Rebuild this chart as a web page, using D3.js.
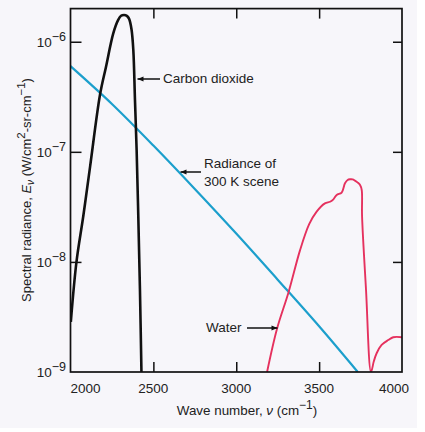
<!DOCTYPE html>
<html><head><meta charset="utf-8">
<script src="https://cdn.jsdelivr.net/npm/d3@7"></script>
<style>
html,body{margin:0;padding:0;background:#ffffff;}
svg{display:block;font-family:"Liberation Sans",Arial,Helvetica,sans-serif;}
</style></head>
<body>
<svg id="chart" width="425" height="432"></svg>
<script>
// ---- data ----
const xTicks = [2000, 2500, 3000, 3500, 4000];
const yTickExps = [-9, -8, -7, -6];
// Carbon dioxide band [wave number, radiance]
const co2Wave = [2002, 2036, 2077, 2118, 2178, 2214, 2258, 2287, 2305, 2323, 2340, 2353, 2368, 2379, 2389, 2399, 2409, 2419, 2428];
const co2Rad  = [2.85e-9, 1.0e-8, 2.6e-8, 7.3e-8, 3.3e-7, 5.9e-7, 1.19e-6, 1.57e-6, 1.72e-6, 1.75e-6, 1.72e-6, 1.62e-6, 1.3e-6, 8.4e-7, 2.95e-7, 1.04e-7, 2.6e-8, 5.6e-9, 1.0e-9];
// Radiance of 300 K scene
const bbWave = [2000, 2250, 2500, 2750, 3000, 3250, 3500, 3733];
const bbRad  = [6.0e-7, 2.72e-7, 1.14e-7, 4.6e-8, 1.81e-8, 6.9e-9, 2.6e-9, 1.0e-9];
// Water band
const h2oWave = [3186, 3246, 3316, 3385, 3440, 3485, 3535, 3566, 3586, 3606, 3636, 3656, 3672, 3686, 3702, 3716, 3733, 3747, 3757, 3759, 3783, 3813, 3830, 3847, 3877, 3917, 3947, 4000];
const h2oRad  = [1.0e-9, 2.47e-9, 5.33e-9, 1.28e-8, 2.2e-8, 2.86e-8, 3.4e-8, 3.52e-8, 3.7e-8, 4.06e-8, 4.26e-8, 5.18e-8, 5.55e-8, 5.63e-8, 5.62e-8, 5.47e-8, 5.25e-8, 4.99e-8, 4.5e-8, 2.61e-8, 5.56e-9, 1.0e-9, 1.25e-9, 1.48e-9, 1.76e-9, 1.95e-9, 2.07e-9, 2.07e-9];

(function(){
// ---- layout ----
const svg = d3.select("#chart");
svg.append("rect").attr("x",0).attr("y",0).attr("width",417).attr("height",428).attr("fill","#f7f6fa");

const pL = 70.5, pR = 402, pT = 8.6, pB = 372;
const x = d3.scaleLinear().domain([2000, 4000]).range([pL, pR]);
const y = d3.scaleLog().domain([1e-9, 2e-6]).range([pB, pT]);

const defs = svg.append("defs");
defs.append("clipPath").attr("id","clip").append("rect")
  .attr("x",pL).attr("y",pT).attr("width",pR-pL).attr("height",pB-pT);
defs.append("marker").attr("id","arr").attr("viewBox","0 0 10 10").attr("refX",10).attr("refY",5)
  .attr("markerWidth",7).attr("markerHeight",6).attr("markerUnits","userSpaceOnUse").attr("orient","auto")
  .append("path").attr("d","M0,1 L10,5 L0,9 Z").attr("fill","#111");

const line = d3.line().x(d => x(d[0])).y(d => y(d[1])).curve(d3.curveCatmullRom.alpha(0.5));
const lineLin = d3.line().x(d => x(d[0])).y(d => y(d[1])).curve(d3.curveMonotoneX);

const g = svg.append("g").attr("clip-path","url(#clip)");
g.append("path").datum(d3.zip(bbWave, bbRad)).attr("d", lineLin)
  .attr("fill","none").attr("stroke","#1c9fcc").attr("stroke-width",2.2);
g.append("path").datum(d3.zip(h2oWave, h2oRad)).attr("d", line)
  .attr("fill","none").attr("stroke","#e5315e").attr("stroke-width",1.9).attr("stroke-linejoin","round");
g.append("path").datum(d3.zip(co2Wave, co2Rad)).attr("d", line)
  .attr("fill","none").attr("stroke","#111").attr("stroke-width",2.6).attr("stroke-linejoin","round");

// ---- axes: frame with inward ticks ----
const inner = xTicks.filter(v => v > 2000 && v < 4000);
const axB = d3.axisBottom(x).tickValues(inner).tickSize(-10).tickFormat("");
const axT = d3.axisTop(x).tickValues(inner).tickSize(-10).tickFormat("");
const yVals = yTickExps.filter(e => e > -9).map(e => Math.pow(10, e));
const axL = d3.axisLeft(y).tickValues(yVals).tickSize(-11).tickFormat("");
const axR = d3.axisRight(y).tickValues(yVals).tickSize(-9).tickFormat("");
function styleAx(sel){ sel.select(".domain").remove(); sel.selectAll("line").attr("stroke","#111").attr("stroke-width",1.5); }
svg.append("g").attr("transform",`translate(0,${pB})`).call(axB).call(styleAx);
svg.append("g").attr("transform",`translate(0,${pT})`).call(axT).call(styleAx);
svg.append("g").attr("transform",`translate(${pL},0)`).call(axL).call(styleAx);
svg.append("g").attr("transform",`translate(${pR},0)`).call(axR).call(styleAx);
svg.append("rect").attr("x",pL).attr("y",pT).attr("width",pR-pL).attr("height",pB-pT)
  .attr("fill","none").attr("stroke","#111").attr("stroke-width",1.7);

// x tick labels
const xLabShift = {2000: 15, 4000: -8};
svg.append("g").selectAll("text").data(xTicks).join("text")
  .attr("x", d => x(d) + (xLabShift[d] || 0)).attr("y", 393)
  .attr("text-anchor","middle").attr("font-size",13.5).attr("fill","#222").text(d => d);

// y tick labels 10^n
const yl = svg.append("g").selectAll("text").data(yTickExps).join("text")
  .attr("x", 66).attr("y", d => y(Math.pow(10,d)) + 5)
  .attr("text-anchor","end").attr("font-size",13.5).attr("fill","#222");
yl.append("tspan").text("10");
yl.append("tspan").attr("dy",-6).attr("font-size",12.5).text(d => "\u2212" + Math.abs(d));

// axis titles
const xt = svg.append("text").attr("x",247).attr("y",415).attr("text-anchor","middle")
  .attr("font-size",13.4).attr("fill","#222");
xt.append("tspan").text("Wave number, ");
xt.append("tspan").attr("font-style","italic").text("\u03bd");
xt.append("tspan").text(" (cm");
xt.append("tspan").attr("dy",-6).attr("font-size",12).text("\u22121");
xt.append("tspan").attr("dy",6).text(")");

const yt = svg.append("text").attr("transform","translate(31,190) rotate(-90)").attr("text-anchor","middle")
  .attr("font-size",13).attr("fill","#222");
yt.append("tspan").text("Spectral radiance, ");
yt.append("tspan").attr("font-style","italic").text("E");
yt.append("tspan").attr("dy",3).attr("font-size",10).attr("font-style","italic").text("\u03bd");
yt.append("tspan").attr("dy",-3).text(" (W/cm");
yt.append("tspan").attr("dy",-6).attr("font-size",11.5).text("2");
yt.append("tspan").attr("dy",6).text("-sr-cm");
yt.append("tspan").attr("dy",-6).attr("font-size",11.5).text("\u22121");
yt.append("tspan").attr("dy",6).text(")");

// annotations
function arrow(x1,y1,x2,y2){
  svg.append("line").attr("x1",x1).attr("y1",y1).attr("x2",x2).attr("y2",y2)
    .attr("stroke","#111").attr("stroke-width",1.5).attr("marker-end","url(#arr)");
}
const ann = svg.append("g").attr("font-size",13.5).attr("fill","#222");
ann.append("text").attr("x",163).attr("y",83).text("Carbon dioxide");
arrow(160, 79, 137.5, 79);
ann.append("text").attr("x",204).attr("y",168).text("Radiance of");
ann.append("text").attr("x",204).attr("y",186).text("300 K scene");
arrow(201, 172, 180.5, 172);
ann.append("text").attr("x",206).attr("y",332).text("Water");
arrow(247, 328, 277.5, 328);
})();
</script>
</body></html>
